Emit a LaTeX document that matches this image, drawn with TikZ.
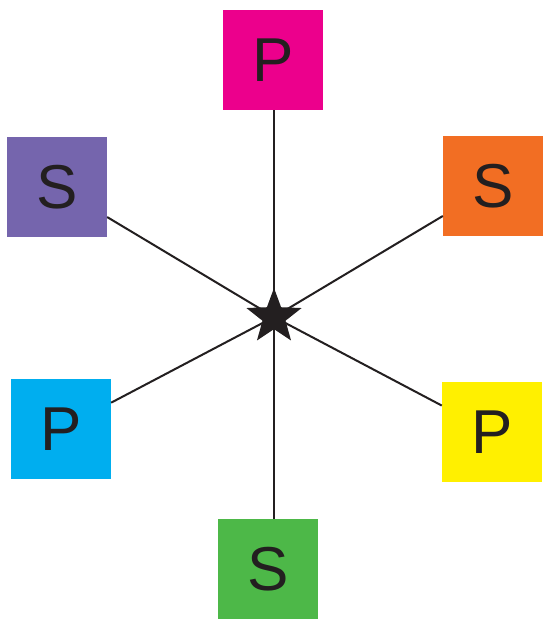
\documentclass[tikz,border=0pt]{standalone}
\usepackage{fontspec}
\setmainfont{Liberation Sans}
\usetikzlibrary{shapes.geometric}
\definecolor{cmag}{HTML}{EC008C}
\definecolor{cpur}{HTML}{7565AD}
\definecolor{cora}{HTML}{F26E23}
\definecolor{cblu}{HTML}{00AEEF}
\definecolor{cyel}{HTML}{FFF000}
\definecolor{cgre}{HTML}{4DB848}
\definecolor{ink}{HTML}{231F20}
\tikzset{
  box/.style={draw=none, minimum size=100pt, inner sep=0pt, text=ink,
    font=\fontsize{62}{62}\selectfont},
  link/.style={draw=ink, line width=2pt},
  starnode/.style={star, star points=5, star point ratio=2.4, fill=ink,
    minimum size=58pt, inner sep=0pt},
}
\begin{document}
\begin{tikzpicture}[x=1pt,y=-1pt]
\useasboundingbox[fill=white] (0,0) rectangle (544,620);
\coordinate (c) at (274,317);
\node[box, fill=cmag] (p1) at (273,60) {P};
\node[box, fill=cpur] (s1) at (57,187) {S};
\node[box, fill=cora] (s2) at (493,186) {S};
\node[box, fill=cblu] (p2) at (61,429) {P};
\node[box, fill=cyel] (p3) at (492,432) {P};
\node[box, fill=cgre] (s3) at (268,569) {S};
\path[link] (c) -- (p1.south -| c);
\path[link] (c) -- (s1);
\path[link] (c) -- (s2);
\path[link] (c) -- (p2);
\path[link] (c) -- (p3);
\path[link] (c) -- (s3.north -| c);
\node[starnode] (st) at (c) {};
\end{tikzpicture}
\end{document}
